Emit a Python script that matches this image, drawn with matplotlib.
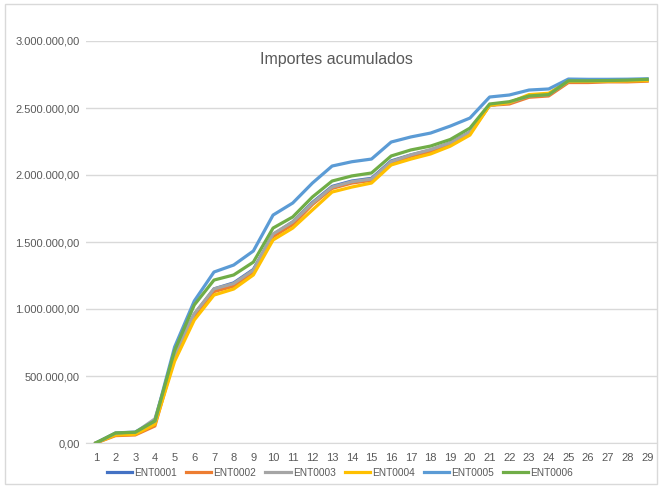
import matplotlib.pyplot as plt
from matplotlib.patches import Rectangle
from matplotlib.ticker import FuncFormatter, MultipleLocator

TITLE = "Importes acumulados"
DAYS = list(range(1, 30))

ENT0001 = [0, 65e3, 72e3, 150e3, 670e3, 960e3, 1150e3, 1195e3, 1295e3, 1555e3,
           1650e3, 1795e3, 1915e3, 1955e3, 1975e3, 2105e3, 2150e3, 2185e3, 2240e3, 2320e3,
           2520e3, 2540e3, 2590e3, 2600e3, 2700e3, 2700e3, 2702e3, 2705e3, 2710e3]
ENT0002 = [0, 55e3, 60e3, 127e3, 640e3, 945e3, 1130e3, 1170e3, 1270e3, 1540e3,
           1630e3, 1780e3, 1900e3, 1940e3, 1960e3, 2090e3, 2140e3, 2175e3, 2230e3, 2310e3,
           2520e3, 2530e3, 2580e3, 2590e3, 2690e3, 2690e3, 2695e3, 2695e3, 2700e3]
ENT0003 = [0, 72e3, 78e3, 180e3, 660e3, 965e3, 1150e3, 1190e3, 1290e3, 1560e3,
           1650e3, 1790e3, 1910e3, 1950e3, 1970e3, 2100e3, 2150e3, 2190e3, 2240e3, 2320e3,
           2520e3, 2540e3, 2590e3, 2600e3, 2700e3, 2700e3, 2702e3, 2705e3, 2710e3]
ENT0004 = [0, 60e3, 65e3, 140e3, 610e3, 918e3, 1104e3, 1149e3, 1254e3, 1515e3,
           1604e3, 1739e3, 1873e3, 1910e3, 1940e3, 2075e3, 2119e3, 2157e3, 2215e3, 2298e3,
           2520e3, 2540e3, 2600e3, 2610e3, 2700e3, 2700e3, 2700e3, 2702e3, 2705e3]
ENT0005 = [0, 75e3, 82e3, 165e3, 716e3, 1060e3, 1276e3, 1328e3, 1433e3, 1701e3,
           1791e3, 1940e3, 2067e3, 2099e3, 2119e3, 2246e3, 2284e3, 2313e3, 2365e3, 2425e3,
           2582e3, 2597e3, 2634e3, 2642e3, 2716e3, 2714e3, 2714e3, 2715e3, 2718e3]
ENT0006 = [0, 75e3, 80e3, 165e3, 690e3, 1030e3, 1216e3, 1254e3, 1350e3, 1604e3,
           1687e3, 1836e3, 1955e3, 1993e3, 2015e3, 2142e3, 2187e3, 2216e3, 2265e3, 2350e3,
           2530e3, 2547e3, 2590e3, 2600e3, 2703e3, 2703e3, 2705e3, 2708e3, 2714e3]

SERIES = [("ENT0001", ENT0001, "#4472C4"), ("ENT0002", ENT0002, "#ED7D31"),
          ("ENT0003", ENT0003, "#A5A5A5"), ("ENT0004", ENT0004, "#FFC000"),
          ("ENT0005", ENT0005, "#5B9BD5"), ("ENT0006", ENT0006, "#70AD47")]

TXT = "#595959"
GRID = "#D9D9D9"


def es_fmt(v, _pos):
    s = f"{v:,.2f}"
    return s.replace(",", "X").replace(".", ",").replace("X", ".")


def main() -> None:
    plt.rcParams["font.family"] = ["Liberation Sans", "DejaVu Sans"]
    fig = plt.figure(figsize=(6.62, 4.86), dpi=100)
    ax = fig.add_axes([86 / 662, 1 - 443 / 486, (657 - 86) / 662, (443 - 41) / 486])

    for name, vals, col in SERIES:
        ax.plot(DAYS, vals, color=col, lw=2.3, label=name, solid_joinstyle="round")

    ax.set_xlim(0.5, 29.5)
    ax.set_ylim(0, 3_000_000)
    ax.yaxis.set_major_locator(MultipleLocator(500_000))
    ax.yaxis.set_major_formatter(FuncFormatter(es_fmt))
    ax.set_xticks(DAYS)
    ax.grid(axis="y", color=GRID, lw=1)
    ax.set_axisbelow(True)
    for side in ("top", "right", "left"):
        ax.spines[side].set_visible(False)
    ax.spines["bottom"].set_color(GRID)
    ax.tick_params(axis="both", length=0, labelsize=8, colors=TXT)
    ax.tick_params(axis="x", pad=7)
    ax.tick_params(axis="y", pad=4.5)

    ax.text(0.438, 0.953, TITLE, transform=ax.transAxes, ha="center", va="center",
            fontsize=11.5, color=TXT)

    fig.legend(loc="center", bbox_to_anchor=(340 / 662, 1 - 473 / 486), ncol=6, frameon=False,
               fontsize=7.3, handlelength=2.5, handletextpad=0.2, columnspacing=0.9,
               labelcolor=TXT)

    fig.add_artist(Rectangle((5 / 662, 2 / 486), 652 / 662, 480 / 486, transform=fig.transFigure,
                             fill=False, edgecolor=GRID, lw=1))
    fig.savefig("out.png", dpi=100)


if __name__ == "__main__":
    main()
